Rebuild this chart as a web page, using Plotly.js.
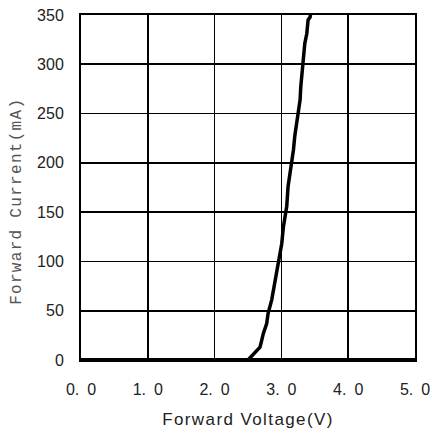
<!DOCTYPE html>
<html>
<head>
<meta charset="utf-8">
<script src="https://cdn.plot.ly/plotly-3.0.1.min.js"></script>
<style>
html,body{margin:0;padding:0;background:#fff;}
#chart{width:432px;height:436px;}
.xtitle{letter-spacing:1.4px;}
.annotation-text{letter-spacing:1.3px;}
</style>
</head>
<body>
<div id="chart"></div>
<script>
// Forward voltage (V) and forward current (mA)
const voltage = [2.50, 2.60, 2.68, 2.705, 2.73, 2.78, 2.80, 2.855, 2.90, 2.955, 2.98, 3.005, 3.03, 3.05, 3.08, 3.10, 3.13, 3.155, 3.18, 3.20, 3.23, 3.25, 3.28, 3.29, 3.32, 3.34, 3.35, 3.38, 3.40, 3.43, 3.44];
const current = [0, 7, 13, 20, 27, 37, 47, 61, 78, 95, 105, 118, 135, 145, 156, 176, 189, 200, 213, 227, 240, 250, 264, 277, 298, 308, 321, 331, 345, 348, 352];
const xTickVals = [0, 1, 2, 3, 4, 5];
const xTickText = ["0.\u20020", "1.\u20020", "2.\u20020", "3.\u20020", "4.\u20020", "5.\u20020"];
const yTickVals = [0, 50, 100, 150, 200, 250, 300, 350];
const xTitle = 'Forward Voltage(V)';
const yTitle = 'Forward Current(mA)';

const trace = {
  x: voltage, y: current, type: 'scatter', mode: 'lines',
  line: {color: '#000', width: 3.5}, hoverinfo: 'none', cliponaxis: true
};

const layout = {
  width: 432, height: 436,
  margin: {l: 81, r: 17, t: 15, b: 76},
  paper_bgcolor: '#fff', plot_bgcolor: '#fff',
  showlegend: false,
  xaxis: {
    range: [0, 5], tickvals: xTickVals, ticktext: xTickText,
    showgrid: true, gridcolor: '#000', gridwidth: 1.6,
    zeroline: false, showline: true, linecolor: '#000', linewidth: 2, mirror: true,
    ticks: 'outside', ticklen: 14, tickcolor: 'rgba(0,0,0,0)',
    tickfont: {family: 'Liberation Sans, Arial, sans-serif', size: 16, color: '#222'},
    title: {text: xTitle, standoff: 16, font: {family: 'Liberation Sans, Arial, sans-serif', size: 17, color: '#222'}}
  },
  yaxis: {
    range: [0, 350], tickvals: yTickVals,
    showgrid: true, gridcolor: '#000', gridwidth: 1.6,
    zeroline: false, showline: true, linecolor: '#000', linewidth: 2, mirror: true,
    ticks: 'outside', ticklen: 12, tickcolor: 'rgba(0,0,0,0)',
    tickfont: {family: 'Liberation Sans, Arial, sans-serif', size: 16, color: '#222'}
  },
  annotations: [{
    text: yTitle, xref: 'paper', yref: 'paper', x: -0.19, y: 0.46,
    xanchor: 'center', yanchor: 'middle', textangle: -90, showarrow: false,
    font: {family: 'Liberation Mono, Courier New, monospace', size: 16, color: '#555'}
  }],
  shapes: [
    {type: 'line', xref: 'paper', yref: 'y', x0: 0, x1: 1, y0: 0, y1: 0, line: {color: '#000', width: 4}}
  ]
};

Plotly.newPlot('chart', [trace], layout, {staticPlot: true, displayModeBar: false});
</script>
</body>
</html>
